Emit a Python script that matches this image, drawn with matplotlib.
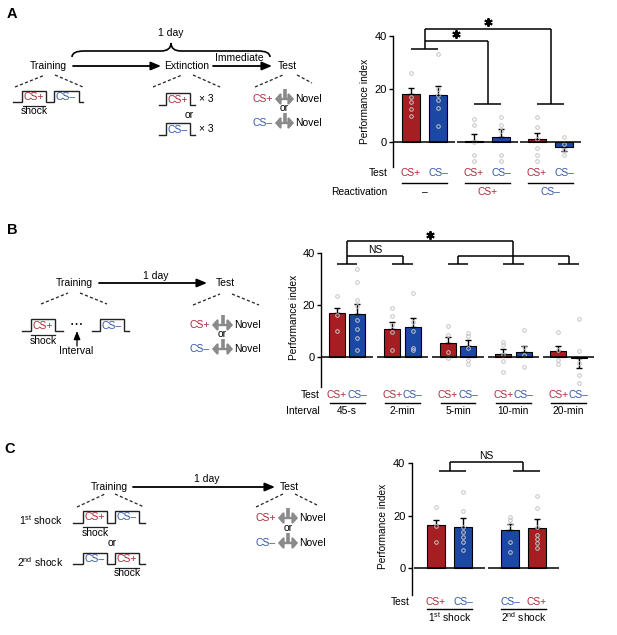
import matplotlib
matplotlib.use("Agg")
import matplotlib.pyplot as plt
import matplotlib.transforms as mtransforms
from matplotlib.path import Path
from matplotlib.patches import PathPatch

plt.rcParams['font.family'] = ['Liberation Sans', 'DejaVu Sans']
plt.rcParams['mathtext.fontset'] = 'custom'
plt.rcParams['mathtext.rm'] = 'Liberation Sans'

RED = '#a51e22'
BLUE = '#1b47a5'
TRED = '#ac2c3c'
TBLUE = '#3358a8'
DOT = '#c4c4c4'
GRAY = '#8a8a8a'

# ---- data ----
A_test = ['CS+', 'CS–', 'CS+', 'CS–', 'CS+', 'CS–']
A_mean = [18.0, 17.6, 0.3, 2.1, 1.3, -2.0]
A_sem = [2.5, 3.7, 2.7, 2.7, 2.2, 1.3]
A_dots = [[26, 17, 15, 12.3, 10], [33.3, 20, 17.6, 15.7, 12.8, 6],
          [8.8, 6.5, 0, -5, -7], [9.4, 6.3, 4, -4.7, -7],
          [9.4, 5.7, 1.3, -2.3, -4.7, -7], [2.1, -0.9, -3.1, -5]]
A_react = ['–', 'CS+', 'CS–']

B_test = ['CS+', 'CS–'] * 5
B_mean = [16.7, 16.3, 10.8, 11.4, 5.5, 4.4, 1.2, 1.9, 2.3, -0.5]
B_sem = [1.9, 4.0, 2.5, 3.5, 2.1, 2.1, 1.7, 2.2, 1.9, 3.9]
B_dots = [[23.2, 16, 10], [33.8, 28.8, 21.9, 19.4, 14.2, 10.8, 7.4, 2.7],
          [18.7, 15.8, 12.3, 9.4, 2.7], [24.5, 13.6, 10.1, 3.3, 2.7],
          [11.7, 8.5, 2, -0.5], [9.1, 8.2, 3.3, -1.2, -2.7],
          [5.9, 4.6, 0.8, -1.4, -5.9], [10.4, 4, 0.8, -3.7],
          [9.7, 2.7, -1.2, -2.7], [14.6, 2.3, -2.4, -6.9, -10.1]]
B_interval = ['45-s', '2-min', '5-min', '10-min', '20-min']

C_test = ['CS+', 'CS–', 'CS–', 'CS+']
C_mean = [16.5, 15.6, 14.7, 15.2]
C_sem = [2.0, 3.4, 2.3, 3.5]
C_dots = [[23.2, 16.1, 9.9], [28.9, 21.8, 15.8, 13.9, 12, 10.1, 7],
          [19.6, 18.4, 17, 10.1, 6.2], [27.6, 22.8, 15.8, 12.7, 11, 9.5, 7.8]]
C_group = ['1$^{\\rm st}$ shock', '2$^{\\rm nd}$ shock']

W, H = 617, 635
FS = 7.5
CFS = 7.4
fig = plt.figure(figsize=(W / 100, H / 100), dpi=100)
ax0 = fig.add_axes([0, 0, 1, 1])
ax0.set_xlim(0, W)
ax0.set_ylim(H, 0)
ax0.axis('off')


def tcol(lab):
    return TRED if lab == 'CS+' else TBLUE


def bcol(lab):
    return RED if lab == 'CS+' else BLUE


def px_axes(left, right, top, bottom):
    a = fig.add_axes([left / W, 1 - bottom / H, (right - left) / W, (bottom - top) / H])
    a.set_facecolor('none')
    return a


# ---------- schematic helpers ----------
def wave(xs, yb, yh):
    px, py = [xs[0]], [yb]
    lvl = yb
    for x in xs[1:-1]:
        nxt = yh if lvl == yb else yb
        px += [x, x]
        py += [lvl, nxt]
        lvl = nxt
    px.append(xs[-1]); py.append(lvl)
    ax0.plot(px, py, color='#222222', lw=1.0, solid_joinstyle='miter')


def dashes(x0, y0, x1, y1):
    ax0.plot([x0, x1], [y0, y1], color='#222222', lw=0.9, ls=(0, (2.5, 1.8)))


def arrow(x0, x1, y):
    ax0.annotate('', xy=(x1, y), xytext=(x0, y),
                 arrowprops=dict(arrowstyle='-|>,head_length=0.6,head_width=0.25',
                                 lw=1.3, color='black', shrinkA=0, shrinkB=0))


def tmaze(x0, x1, y, ytop):
    ax0.annotate('', xy=(x1, y), xytext=(x0, y),
                 arrowprops=dict(arrowstyle='<|-|>,head_length=0.28,head_width=0.32',
                                 lw=1.7, color=GRAY, shrinkA=0, shrinkB=0))
    xm = (x0 + x1) / 2
    ax0.plot([xm, xm], [ytop, y], color=GRAY, lw=2.6, solid_capstyle='butt')


def shock(xa, xb, y):
    ax0.plot([xa, xb], [y, y], color='#222222', lw=0.9)
    ax0.text((xa + xb) / 2, y + 0.5, 'shock', fontsize=FS, ha='center', va='top')


def txt(x, y, s, color='black', ha='center', fs=FS):
    ax0.text(x, y, s, fontsize=fs, color=color, ha=ha, va='center')


def test_block(xr, x0, x1, y1, y2, ymid):
    for y, lab in ((y1, 'CS+'), (y2, 'CS–')):
        txt(xr, y, lab, tcol(lab), ha='right')
        tmaze(x0, x1, y, y - 10)
        txt(x1 + 1, y, 'Novel', ha='left')
    txt((x0 + x1) / 2, ymid, 'or')


# panel labels
for lab, x, y in (('A', 12, 14), ('B', 12, 230), ('C', 10, 449)):
    ax0.text(x, y, lab, fontsize=10.5, fontweight='bold', ha='center', va='center')

# ---------- Panel A schematic ----------
verts = [(72, 57), (72, 51), (84, 51), (161, 51), (171, 51), (171, 43),
         (171, 51), (181, 51), (258, 51), (270, 51), (270, 57)]
codes = [Path.MOVETO, Path.CURVE3, Path.CURVE3, Path.LINETO, Path.CURVE3, Path.CURVE3,
         Path.CURVE3, Path.CURVE3, Path.LINETO, Path.CURVE3, Path.CURVE3]
ax0.add_patch(PathPatch(Path(verts, codes), fill=False, lw=1.2, ec='black'))
txt(171, 33, '1 day')
txt(48, 66, 'Training')
arrow(73, 161, 66)
txt(187, 66, 'Extinction')
arrow(213, 272, 66)
txt(239, 58, 'Immediate')
txt(287, 66, 'Test')
dashes(15, 87, 45, 75); dashes(55, 75, 83, 87)
wave([13, 22, 46, 54, 79, 83], 101.7, 90.7)
txt(34, 97.5, 'CS+', TRED); txt(66, 97.5, 'CS–', TBLUE)
shock(23, 45, 106)
dashes(153, 87, 182, 75); dashes(193, 75, 220, 87)
wave([159, 166, 190, 195], 105, 92.7)
txt(178, 100, 'CS+', TRED); txt(199, 99, '× 3', ha='left')
txt(189, 115, 'or')
wave([159, 166, 190, 195], 135, 122.7)
txt(178, 130, 'CS–', TBLUE); txt(199, 129, '× 3', ha='left')
dashes(255, 87, 283, 75); dashes(297, 75, 312, 83)
test_block(273, 275, 294, 99, 123, 108)

# ---------- Panel B schematic ----------
txt(74, 283, 'Training')
arrow(99, 207, 283)
txt(156, 276, '1 day')
txt(225, 283, 'Test')
dashes(41, 304, 68, 293); dashes(80, 293, 107, 304)
wave([22, 31, 55, 63], 330.7, 319)
wave([92, 100, 124, 129], 330.7, 319)
txt(43, 326, 'CS+', TRED); txt(112, 326, 'CS–', TBLUE)
ax0.text(77, 325, '• • •', fontsize=5, ha='center', va='center')
shock(31, 55, 335)
ax0.annotate('', xy=(77, 331), xytext=(77, 346),
             arrowprops=dict(arrowstyle='-|>,head_length=0.5,head_width=0.2',
                             lw=0.9, color='black', shrinkA=0, shrinkB=0))
txt(76, 351, 'Interval')
dashes(193, 305, 220, 294); dashes(232, 294, 259, 305)
test_block(210, 212, 233, 325, 349, 334)

# ---------- Panel C schematic ----------
txt(109, 487, 'Training')
arrow(133, 275, 487)
txt(207, 479, '1 day')
txt(289, 487, 'Test')
dashes(77, 507, 105, 494); dashes(115, 494, 144, 507)
txt(63, 520, C_group[0], ha='right')
wave([73, 83, 107, 115, 139, 145], 522.7, 510.7)
txt(95, 517.5, 'CS+', TRED); txt(127, 517.5, 'CS–', TBLUE)
shock(83, 107, 527)
txt(112, 543, 'or')
txt(63, 562, C_group[1], ha='right')
wave([73, 83, 107, 115, 139, 145], 564, 552.7)
txt(95, 559, 'CS–', TBLUE); txt(127, 559, 'CS+', TRED)
shock(115, 139, 568)
dashes(256, 507, 283, 494); dashes(295, 494, 317, 505)
test_block(276, 278, 298, 518, 543, 528)


# ---------- bar chart helper ----------
def bar_panel(ax, xpos, means, sems, dots, labels, width, ylo):
    ax.set_ylim(ylo, 40)
    for x, m, s, d, lab in zip(xpos, means, sems, dots, labels):
        ax.bar(x, m, width=width, color=bcol(lab), edgecolor='black', lw=0.8, zorder=2)
        if m >= 0:
            ax.errorbar(x, m, yerr=[[0], [s]], color='black', lw=1.0, capsize=2.5,
                        capthick=1.0, zorder=3)
        else:
            ax.errorbar(x, m, yerr=[[s], [0]], color='black', lw=1.0, capsize=2.5,
                        capthick=1.0, zorder=3)
        ax.plot([x] * len(d), d, 'o', ms=2.6, mfc='none', mec=DOT, mew=0.7, zorder=4,
                clip_on=False)
    for sp in ('top', 'right', 'bottom'):
        ax.spines[sp].set_visible(False)
    ax.spines['left'].set_linewidth(1.0)
    ax.set_xticks([])
    ax.set_yticks([0, 20, 40])
    ax.tick_params(axis='y', length=3, width=1.0, labelsize=8, pad=1.5)
    ax.set_ylabel('Performance index', fontsize=7.3)


def line(ax, xs, ys):
    ax.plot(xs, ys, color='black', lw=1.1, clip_on=False, solid_capstyle='butt')


def star(ax, x, y):
    ax.plot([x], [y], marker=(6, 2, 0), ms=6, mew=1.4, color='black', clip_on=False)


def below(ax, x, ypx, s, color='black', ha='center'):
    tr = mtransforms.blended_transform_factory(ax.transData, ax0.transData)
    ax.text(x, ypx, s, fontsize=CFS, color=color, ha=ha, va='center', transform=tr,
            clip_on=False)


def uline(ax, xa, xb, ypx):
    tr = mtransforms.blended_transform_factory(ax.transData, ax0.transData)
    ax.plot([xa, xb], [ypx, ypx], color='black', lw=1.0, transform=tr, clip_on=False)


# ---------- Panel A chart ----------
axA = px_axes(393, 583, 36, 167)
axA.set_xlim(0, 190 / 18)
xA = [g * 3.5 + k * 1.5 + 1.0 for g in range(3) for k in range(2)]
bar_panel(axA, xA, A_mean, A_sem, A_dots, A_test, 1.0, -9.4)
axA.yaxis.set_label_coords((370 - 393) / 190, 0.5)
cA = [(xA[2 * g] + xA[2 * g + 1]) / 2 for g in range(3)]
for g, c in enumerate(cA):
    axA.hlines(0, max(c - 1.7, 0), c + 1.7, color='black', lw=1.1, zorder=5)
    yb = 35 if g == 0 else 14.5
    line(axA, [xA[2 * g], xA[2 * g + 1]], [yb, yb])
line(axA, [cA[0], cA[0]], [35, 42.8])
line(axA, [cA[1], cA[1]], [14.5, 38])
line(axA, [cA[2], cA[2]], [14.5, 42.8])
line(axA, [cA[0], cA[1]], [38, 38])
line(axA, [cA[0], cA[2]], [42.8, 42.8])
star(axA, (cA[0] + cA[1]) / 2, 40.6)
star(axA, (cA[0] + cA[2]) / 2, 45.4)
below(axA, -0.3, 173, 'Test', ha='right')
below(axA, -0.3, 192, 'Reactivation', ha='right')
for x, lab in zip(xA, A_test):
    below(axA, x, 173, lab, tcol(lab))
for g, c in enumerate(cA):
    uline(axA, xA[2 * g] - 0.5, xA[2 * g + 1] + 0.5, 183)
    below(axA, c, 192, A_react[g], 'black' if g == 0 else tcol(A_react[g]))

# ---------- Panel B chart ----------
axB = px_axes(321, 597, 252.7, 386.7)
axB.set_xlim(0, 276 / 16)
xB = [g * 3.46 + k * 1.28 + 1.0 for g in range(5) for k in range(2)]
bar_panel(axB, xB, B_mean, B_sem, B_dots, B_test, 1.0, -11.4)
axB.yaxis.set_label_coords((299 - 321) / 276, 0.52)
cB = [(xB[2 * g] + xB[2 * g + 1]) / 2 for g in range(5)]
for g, c in enumerate(cB):
    axB.hlines(0, max(c - 1.6, 0), c + 1.6, color='black', lw=1.1, zorder=5)
    line(axB, [xB[2 * g], xB[2 * g + 1]], [35.8, 35.8])
    top = 44.4 if g in (0, 3) else 38.8
    line(axB, [c, c], [35.8, top])
line(axB, [cB[0], cB[1]], [38.8, 38.8])
line(axB, [cB[2], cB[4]], [38.8, 38.8])
line(axB, [cB[0], cB[3]], [44.4, 44.4])
axB.text((cB[0] + cB[1]) / 2, 41.2, 'NS', fontsize=CFS, ha='center', va='center')
star(axB, (cB[0] + cB[3]) / 2, 46.8)
below(axB, -0.1, 395, 'Test', ha='right')
below(axB, -0.1, 411, 'Interval', ha='right')
for x, lab in zip(xB, B_test):
    below(axB, x, 395, lab, tcol(lab))
for g, c in enumerate(cB):
    uline(axB, xB[2 * g] - 0.45, xB[2 * g + 1] + 0.45, 403)
    below(axB, c, 411, B_interval[g])

# ---------- Panel C chart ----------
axC = px_axes(411.7, 561, 463.3, 595)
axC.set_xlim(0, 149.3 / 18)
xC = [g * 4.11 + k * 1.5 + 1.35 for g in range(2) for k in range(2)]
bar_panel(axC, xC, C_mean, C_sem, C_dots, C_test, 1.0, -10.2)
axC.yaxis.set_label_coords((388 - 411.7) / 149.3, 0.52)
cC = [(xC[2 * g] + xC[2 * g + 1]) / 2 for g in range(2)]
for g, c in enumerate(cC):
    axC.hlines(0, max(c - 1.95, 0), c + 1.95, color='black', lw=1.1, zorder=5)
    line(axC, [xC[2 * g] + 0.15, xC[2 * g + 1] + 0.15], [37, 37])
    line(axC, [c, c], [37, 40.4])
line(axC, [cC[0], cC[1]], [40.4, 40.4])
axC.text((cC[0] + cC[1]) / 2, 42.8, 'NS', fontsize=CFS, ha='center', va='center')
below(axC, -0.1, 602, 'Test', ha='right')
for x, lab in zip(xC, C_test):
    below(axC, x, 602, lab, tcol(lab))
for g, c in enumerate(cC):
    uline(axC, xC[2 * g] - 0.5, xC[2 * g + 1] + 0.5, 609.3)
    below(axC, c, 617.5, C_group[g])

fig.savefig('out.png', dpi=100)
